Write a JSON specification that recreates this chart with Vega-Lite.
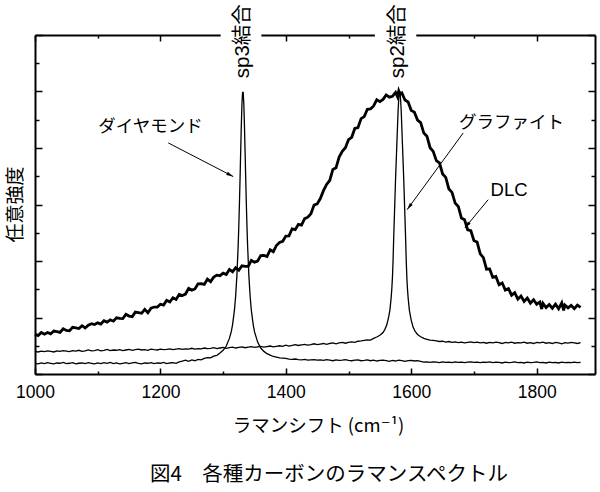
{
  "$schema": "https://vega.github.io/schema/vega-lite/v6.json",
  "autosize": "none",
  "width": 560,
  "height": 339,
  "padding": {"left": 35, "top": 35, "right": 5, "bottom": 118},
  "background": "white",
  "title": {"text": "図4　各種カーボンのラマンスペクトル", "orient": "bottom", "anchor": "middle", "font": "Noto Sans CJK JP", "fontSize": 20.5, "fontWeight": "normal", "color": "black", "offset": 30, "dx": 14},
  "config": {
    "view": {"stroke": null},
    "axis": {"grid": false, "domainColor": "black", "domainWidth": 2, "tickColor": "black", "tickWidth": 1.5, "labelColor": "black", "titleColor": "black", "zindex": 0}
  },
  "datasets": {
    "dlc": [
      {"w":1000,"v":1.41},{"w":1005,"v":1.36},{"w":1010,"v":1.47},{"w":1015,"v":1.41},{"w":1020,"v":1.47},{"w":1025,"v":1.42},{"w":1030,"v":1.52},{"w":1035,"v":1.50},{"w":1040,"v":1.47},{"w":1045,"v":1.60},
      {"w":1050,"v":1.54},{"w":1055,"v":1.53},{"w":1060,"v":1.65},{"w":1065,"v":1.63},{"w":1070,"v":1.61},{"w":1075,"v":1.71},{"w":1080,"v":1.63},{"w":1085,"v":1.73},{"w":1090,"v":1.78},{"w":1095,"v":1.75},
      {"w":1100,"v":1.81},{"w":1105,"v":1.77},{"w":1110,"v":1.89},{"w":1115,"v":1.84},{"w":1120,"v":1.92},{"w":1125,"v":1.87},{"w":1130,"v":1.99},{"w":1135,"v":1.97},{"w":1140,"v":1.96},{"w":1145,"v":2.11},
      {"w":1150,"v":2.05},{"w":1155,"v":2.03},{"w":1160,"v":2.19},{"w":1165,"v":2.17},{"w":1170,"v":2.15},{"w":1175,"v":2.29},{"w":1180,"v":2.17},{"w":1185,"v":2.33},{"w":1190,"v":2.37},{"w":1195,"v":2.37},
      {"w":1200,"v":2.47},{"w":1205,"v":2.44},{"w":1210,"v":2.61},{"w":1215,"v":2.55},{"w":1220,"v":2.70},{"w":1225,"v":2.64},{"w":1230,"v":2.82},{"w":1235,"v":2.78},{"w":1240,"v":2.83},{"w":1245,"v":3.03},
      {"w":1250,"v":2.97},{"w":1255,"v":3.01},{"w":1260,"v":3.19},{"w":1265,"v":3.20},{"w":1270,"v":3.17},{"w":1275,"v":3.36},{"w":1280,"v":3.27},{"w":1285,"v":3.43},{"w":1290,"v":3.50},{"w":1295,"v":3.48},
      {"w":1300,"v":3.57},{"w":1305,"v":3.52},{"w":1310,"v":3.70},{"w":1315,"v":3.62},{"w":1320,"v":3.76},{"w":1325,"v":3.67},{"w":1330,"v":3.83},{"w":1335,"v":3.81},{"w":1340,"v":3.81},{"w":1345,"v":4.02},
      {"w":1350,"v":3.96},{"w":1355,"v":4.00},{"w":1360,"v":4.19},{"w":1365,"v":4.20},{"w":1370,"v":4.16},{"w":1375,"v":4.40},{"w":1380,"v":4.33},{"w":1385,"v":4.55},{"w":1390,"v":4.66},{"w":1395,"v":4.70},
      {"w":1400,"v":4.88},{"w":1405,"v":4.89},{"w":1410,"v":5.14},{"w":1415,"v":5.11},{"w":1420,"v":5.30},{"w":1425,"v":5.27},{"w":1430,"v":5.50},{"w":1435,"v":5.55},{"w":1440,"v":5.67},{"w":1445,"v":5.98},
      {"w":1450,"v":6.02},{"w":1455,"v":6.21},{"w":1460,"v":6.49},{"w":1465,"v":6.71},{"w":1470,"v":6.85},{"w":1475,"v":7.24},{"w":1480,"v":7.30},{"w":1485,"v":7.68},{"w":1490,"v":7.88},{"w":1495,"v":8.01},
      {"w":1500,"v":8.30},{"w":1505,"v":8.38},{"w":1510,"v":8.69},{"w":1515,"v":8.72},{"w":1520,"v":9.04},{"w":1525,"v":9.11},{"w":1530,"v":9.37},{"w":1535,"v":9.38},{"w":1540,"v":9.49},{"w":1545,"v":9.71},
      {"w":1550,"v":9.64},{"w":1555,"v":9.72},{"w":1560,"v":9.88},{"w":1565,"v":9.80},{"w":1570,"v":9.83},{"w":1575,"v":9.97},{"w":1578,"v":9.82},{"w":1580,"v":10.02},{"w":1582,"v":9.90},{"w":1585,"v":9.95},
      {"w":1590,"v":9.70},{"w":1595,"v":9.63},{"w":1600,"v":9.33},{"w":1605,"v":9.27},{"w":1610,"v":8.99},{"w":1615,"v":8.90},{"w":1620,"v":8.53},{"w":1625,"v":8.42},{"w":1630,"v":8.01},{"w":1635,"v":7.88},
      {"w":1640,"v":7.55},{"w":1645,"v":7.47},{"w":1650,"v":7.08},{"w":1655,"v":6.96},{"w":1660,"v":6.55},{"w":1665,"v":6.43},{"w":1670,"v":6.05},{"w":1675,"v":5.93},{"w":1680,"v":5.52},{"w":1685,"v":5.46},
      {"w":1690,"v":5.10},{"w":1695,"v":5.07},{"w":1700,"v":4.72},{"w":1705,"v":4.67},{"w":1710,"v":4.25},{"w":1715,"v":4.12},{"w":1720,"v":3.71},{"w":1725,"v":3.72},{"w":1730,"v":3.42},{"w":1735,"v":3.45},
      {"w":1740,"v":3.16},{"w":1745,"v":3.22},{"w":1750,"v":2.97},{"w":1755,"v":3.02},{"w":1760,"v":2.79},{"w":1765,"v":2.88},{"w":1770,"v":2.65},{"w":1775,"v":2.76},{"w":1780,"v":2.57},{"w":1785,"v":2.69},
      {"w":1790,"v":2.51},{"w":1795,"v":2.63},{"w":1800,"v":2.47},{"w":1805,"v":2.55},{"w":1808,"v":2.30},{"w":1810,"v":2.50},{"w":1815,"v":2.35},{"w":1820,"v":2.46},{"w":1825,"v":2.33},{"w":1830,"v":2.47},
      {"w":1835,"v":2.31},{"w":1840,"v":2.52},{"w":1843,"v":2.25},{"w":1845,"v":2.44},{"w":1850,"v":2.34},{"w":1855,"v":2.43},{"w":1860,"v":2.31},{"w":1865,"v":2.44},{"w":1870,"v":2.36}
    ],
    "gra": [
      {"w":1000,"v":0.80},{"w":1005,"v":0.78},{"w":1010,"v":0.81},{"w":1015,"v":0.79},{"w":1020,"v":0.82},{"w":1025,"v":0.80},{"w":1030,"v":0.78},{"w":1035,"v":0.82},{"w":1040,"v":0.80},{"w":1045,"v":0.83},
      {"w":1050,"v":0.81},{"w":1055,"v":0.79},{"w":1060,"v":0.83},{"w":1065,"v":0.81},{"w":1070,"v":0.84},{"w":1075,"v":0.80},{"w":1080,"v":0.82},{"w":1085,"v":0.85},{"w":1090,"v":0.82},{"w":1095,"v":0.83},
      {"w":1100,"v":0.86},{"w":1105,"v":0.82},{"w":1110,"v":0.84},{"w":1115,"v":0.87},{"w":1120,"v":0.83},{"w":1125,"v":0.85},{"w":1130,"v":0.84},{"w":1135,"v":0.86},{"w":1140,"v":0.83},{"w":1145,"v":0.85},
      {"w":1150,"v":0.87},{"w":1155,"v":0.84},{"w":1160,"v":0.86},{"w":1165,"v":0.88},{"w":1170,"v":0.85},{"w":1175,"v":0.86},{"w":1180,"v":0.84},{"w":1185,"v":0.88},{"w":1190,"v":0.86},{"w":1195,"v":0.85},
      {"w":1200,"v":0.88},{"w":1205,"v":0.86},{"w":1210,"v":0.87},{"w":1215,"v":0.89},{"w":1220,"v":0.86},{"w":1225,"v":0.88},{"w":1230,"v":0.90},{"w":1235,"v":0.87},{"w":1240,"v":0.89},{"w":1245,"v":0.88},
      {"w":1250,"v":0.91},{"w":1255,"v":0.88},{"w":1260,"v":0.90},{"w":1265,"v":0.89},{"w":1270,"v":0.92},{"w":1275,"v":0.90},{"w":1280,"v":0.91},{"w":1285,"v":0.93},{"w":1290,"v":0.90},{"w":1295,"v":0.92},
      {"w":1300,"v":0.94},{"w":1305,"v":0.91},{"w":1310,"v":0.93},{"w":1315,"v":0.95},{"w":1320,"v":0.92},{"w":1325,"v":0.94},{"w":1330,"v":0.96},{"w":1335,"v":0.93},{"w":1340,"v":0.95},{"w":1345,"v":0.97},
      {"w":1350,"v":0.94},{"w":1355,"v":0.96},{"w":1360,"v":0.98},{"w":1365,"v":0.95},{"w":1370,"v":0.97},{"w":1375,"v":0.99},{"w":1380,"v":0.96},{"w":1385,"v":0.98},{"w":1390,"v":1.00},{"w":1395,"v":0.98},
      {"w":1400,"v":1.02},{"w":1405,"v":0.99},{"w":1410,"v":1.01},{"w":1415,"v":1.04},{"w":1420,"v":1.01},{"w":1425,"v":1.03},{"w":1430,"v":1.05},{"w":1435,"v":1.02},{"w":1440,"v":1.04},{"w":1445,"v":1.07},
      {"w":1450,"v":1.04},{"w":1455,"v":1.06},{"w":1460,"v":1.08},{"w":1465,"v":1.05},{"w":1470,"v":1.08},{"w":1475,"v":1.10},{"w":1480,"v":1.07},{"w":1485,"v":1.10},{"w":1490,"v":1.12},{"w":1495,"v":1.09},
      {"w":1500,"v":1.12},{"w":1505,"v":1.14},{"w":1510,"v":1.12},{"w":1515,"v":1.16},{"w":1520,"v":1.17},{"w":1525,"v":1.19},{"w":1530,"v":1.21},{"w":1535,"v":1.20},{"w":1540,"v":1.26},{"w":1545,"v":1.31},
      {"w":1550,"v":1.37},{"w":1555,"v":1.47},{"w":1558,"v":1.58},{"w":1561,"v":1.74},{"w":1564,"v":2.02},{"w":1566,"v":2.27},{"w":1568,"v":2.72},{"w":1569,"v":3.02},{"w":1570,"v":3.42},{"w":1571,"v":4.02},
      {"w":1572,"v":4.82},{"w":1573,"v":5.52},{"w":1574,"v":6.22},{"w":1575,"v":6.92},{"w":1576,"v":7.52},{"w":1577,"v":8.12},{"w":1578,"v":8.72},{"w":1579,"v":9.32},{"w":1580,"v":9.72},{"w":1581,"v":10.0},
      {"w":1582,"v":9.99},{"w":1583,"v":9.70},{"w":1584,"v":9.30},{"w":1585,"v":8.70},{"w":1586,"v":8.10},{"w":1587,"v":7.50},{"w":1588,"v":6.90},{"w":1589,"v":6.20},{"w":1590,"v":5.50},{"w":1591,"v":4.80},
      {"w":1592,"v":4.00},{"w":1593,"v":3.40},{"w":1594,"v":3.00},{"w":1595,"v":2.70},{"w":1597,"v":2.25},{"w":1600,"v":1.90},{"w":1603,"v":1.65},{"w":1606,"v":1.52},{"w":1610,"v":1.40},{"w":1615,"v":1.32},
      {"w":1620,"v":1.26},{"w":1625,"v":1.23},{"w":1630,"v":1.20},{"w":1635,"v":1.19},{"w":1640,"v":1.17},{"w":1645,"v":1.15},{"w":1650,"v":1.16},{"w":1655,"v":1.13},{"w":1660,"v":1.15},{"w":1665,"v":1.12},
      {"w":1670,"v":1.14},{"w":1675,"v":1.11},{"w":1680,"v":1.13},{"w":1685,"v":1.10},{"w":1690,"v":1.12},{"w":1695,"v":1.14},{"w":1700,"v":1.11},{"w":1705,"v":1.13},{"w":1710,"v":1.10},{"w":1715,"v":1.12},
      {"w":1720,"v":1.09},{"w":1725,"v":1.12},{"w":1730,"v":1.10},{"w":1735,"v":1.13},{"w":1740,"v":1.11},{"w":1745,"v":1.08},{"w":1750,"v":1.12},{"w":1755,"v":1.10},{"w":1760,"v":1.13},{"w":1765,"v":1.09},
      {"w":1770,"v":1.11},{"w":1775,"v":1.10},{"w":1780,"v":1.13},{"w":1785,"v":1.09},{"w":1790,"v":1.11},{"w":1795,"v":1.08},{"w":1800,"v":1.12},{"w":1805,"v":1.10},{"w":1810,"v":1.13},{"w":1815,"v":1.09},
      {"w":1820,"v":1.11},{"w":1825,"v":1.08},{"w":1830,"v":1.12},{"w":1835,"v":1.10},{"w":1840,"v":1.07},{"w":1845,"v":1.11},{"w":1850,"v":1.09},{"w":1855,"v":1.12},{"w":1860,"v":1.10},{"w":1865,"v":1.08},{"w":1870,"v":1.11}
    ],
    "dia": [
      {"w":1000,"v":0.38},{"w":1005,"v":0.36},{"w":1010,"v":0.39},{"w":1015,"v":0.37},{"w":1020,"v":0.40},{"w":1025,"v":0.38},{"w":1030,"v":0.36},{"w":1035,"v":0.39},{"w":1040,"v":0.38},{"w":1045,"v":0.41},
      {"w":1050,"v":0.37},{"w":1055,"v":0.38},{"w":1060,"v":0.40},{"w":1065,"v":0.36},{"w":1070,"v":0.38},{"w":1075,"v":0.39},{"w":1080,"v":0.37},{"w":1085,"v":0.40},{"w":1090,"v":0.38},{"w":1095,"v":0.36},
      {"w":1100,"v":0.39},{"w":1105,"v":0.37},{"w":1110,"v":0.40},{"w":1115,"v":0.38},{"w":1120,"v":0.41},{"w":1125,"v":0.37},{"w":1130,"v":0.39},{"w":1135,"v":0.36},{"w":1140,"v":0.38},{"w":1145,"v":0.40},
      {"w":1150,"v":0.37},{"w":1155,"v":0.39},{"w":1160,"v":0.41},{"w":1165,"v":0.38},{"w":1170,"v":0.36},{"w":1175,"v":0.39},{"w":1180,"v":0.38},{"w":1185,"v":0.40},{"w":1190,"v":0.37},{"w":1195,"v":0.39},
      {"w":1200,"v":0.38},{"w":1205,"v":0.41},{"w":1210,"v":0.37},{"w":1215,"v":0.39},{"w":1220,"v":0.40},{"w":1225,"v":0.38},{"w":1230,"v":0.43},{"w":1235,"v":0.46},{"w":1240,"v":0.49},{"w":1245,"v":0.45},
      {"w":1250,"v":0.50},{"w":1255,"v":0.47},{"w":1260,"v":0.52},{"w":1265,"v":0.50},{"w":1270,"v":0.55},{"w":1275,"v":0.58},{"w":1280,"v":0.57},{"w":1285,"v":0.63},{"w":1290,"v":0.66},{"w":1295,"v":0.74},
      {"w":1300,"v":0.84},{"w":1305,"v":0.99},{"w":1310,"v":1.26},{"w":1313,"v":1.50},{"w":1315,"v":1.74},{"w":1318,"v":2.25},{"w":1320,"v":2.77},{"w":1322,"v":3.50},{"w":1324,"v":4.56},{"w":1325,"v":5.24},
      {"w":1326,"v":6.03},{"w":1327,"v":6.93},{"w":1328,"v":7.88},{"w":1329,"v":8.79},{"w":1330,"v":9.55},{"w":1331,"v":9.97},{"w":1332,"v":9.97},{"w":1333,"v":9.55},{"w":1334,"v":8.79},{"w":1335,"v":7.88},
      {"w":1336,"v":6.93},{"w":1337,"v":6.03},{"w":1338,"v":5.24},{"w":1339,"v":4.56},{"w":1341,"v":3.50},{"w":1343,"v":2.77},{"w":1345,"v":2.25},{"w":1348,"v":1.74},{"w":1350,"v":1.50},{"w":1355,"v":1.13},
      {"w":1360,"v":0.92},{"w":1365,"v":0.80},{"w":1370,"v":0.72},{"w":1375,"v":0.67},{"w":1380,"v":0.62},{"w":1385,"v":0.60},{"w":1390,"v":0.57},{"w":1395,"v":0.56},{"w":1400,"v":0.55},{"w":1405,"v":0.53},
      {"w":1410,"v":0.52},{"w":1415,"v":0.53},{"w":1420,"v":0.51},{"w":1425,"v":0.50},{"w":1430,"v":0.52},{"w":1435,"v":0.49},{"w":1440,"v":0.50},{"w":1445,"v":0.51},{"w":1450,"v":0.49},{"w":1455,"v":0.50},
      {"w":1460,"v":0.48},{"w":1465,"v":0.51},{"w":1470,"v":0.49},{"w":1475,"v":0.47},{"w":1480,"v":0.50},{"w":1485,"v":0.48},{"w":1490,"v":0.49},{"w":1495,"v":0.51},{"w":1500,"v":0.48},{"w":1505,"v":0.47},
      {"w":1510,"v":0.49},{"w":1515,"v":0.50},{"w":1520,"v":0.47},{"w":1525,"v":0.48},{"w":1530,"v":0.50},{"w":1535,"v":0.47},{"w":1540,"v":0.49},{"w":1545,"v":0.46},{"w":1550,"v":0.48},{"w":1555,"v":0.49},
      {"w":1560,"v":0.47},{"w":1565,"v":0.45},{"w":1570,"v":0.48},{"w":1575,"v":0.46},{"w":1580,"v":0.49},{"w":1585,"v":0.47},{"w":1590,"v":0.45},{"w":1595,"v":0.47},{"w":1600,"v":0.48},{"w":1605,"v":0.46},
      {"w":1610,"v":0.47},{"w":1615,"v":0.45},{"w":1620,"v":0.42},{"w":1625,"v":0.43},{"w":1630,"v":0.41},{"w":1635,"v":0.43},{"w":1640,"v":0.42},{"w":1645,"v":0.40},{"w":1650,"v":0.43},{"w":1655,"v":0.41},
      {"w":1660,"v":0.42},{"w":1665,"v":0.40},{"w":1670,"v":0.43},{"w":1675,"v":0.41},{"w":1680,"v":0.42},{"w":1685,"v":0.40},{"w":1690,"v":0.42},{"w":1695,"v":0.43},{"w":1700,"v":0.41},{"w":1705,"v":0.42},
      {"w":1710,"v":0.40},{"w":1715,"v":0.42},{"w":1720,"v":0.41},{"w":1725,"v":0.43},{"w":1730,"v":0.40},{"w":1735,"v":0.42},{"w":1740,"v":0.41},{"w":1745,"v":0.39},{"w":1750,"v":0.42},{"w":1755,"v":0.40},
      {"w":1760,"v":0.41},{"w":1765,"v":0.43},{"w":1770,"v":0.40},{"w":1775,"v":0.41},{"w":1780,"v":0.39},{"w":1785,"v":0.42},{"w":1790,"v":0.40},{"w":1795,"v":0.41},{"w":1800,"v":0.43},{"w":1805,"v":0.40},
      {"w":1810,"v":0.41},{"w":1815,"v":0.39},{"w":1820,"v":0.42},{"w":1825,"v":0.40},{"w":1830,"v":0.41},{"w":1835,"v":0.39},{"w":1840,"v":0.42},{"w":1845,"v":0.40},{"w":1850,"v":0.41},{"w":1855,"v":0.40},
      {"w":1860,"v":0.42},{"w":1865,"v":0.40},{"w":1870,"v":0.41}
    ],
    "gaps": [{"x": 1296, "x2": 1361, "y": 11.3, "y2": 12.6}, {"x": 1542, "x2": 1608, "y": 11.3, "y2": 12.6}],
    "bonds": [{"x": 1332, "y": 11.78, "t": "sp3結合"}, {"x": 1579, "y": 11.78, "t": "sp2結合"}],
    "notes": [{"x": 1184, "y": 8.76, "t": "ダイヤモンド"}, {"x": 1760, "y": 8.88, "t": "グラファイト"}],
    "notes2": [{"x": 1756, "y": 6.52, "t": "DLC"}],
    "arrows": [
      {"k": "dia", "x": 1212.5, "y": 8.18, "x2": 1316.1, "y2": 6.99},
      {"k": "gra", "x": 1682.8, "y": 8.53, "x2": 1593.5, "y2": 5.82},
      {"k": "dlc", "x": 1722.6, "y": 6.17, "x2": 1685.5, "y2": 5.17}
    ]
  },
  "resolve": {"axis": {"x": "independent", "y": "independent"}},
  "layer": [
    {
      "data": {"name": "dlc"},
      "mark": {"type": "line", "color": "black", "strokeWidth": 2.8, "clip": false},
      "encoding": {
        "x": {"field": "w", "type": "quantitative", "scale": {"domain": [1000, 1893], "nice": false, "zero": false},
          "axis": {"orient": "bottom", "values": [1000, 1100, 1200, 1300, 1400, 1500, 1600, 1700, 1800], "format": "d",
            "labelExpr": "datum.value % 200 === 0 ? datum.label : ''", "labelFlush": false, "labelOverlap": false,
            "labelFont": "Liberation Sans", "labelFontSize": 17.5, "labelPadding": 15,
            "tickSize": {"condition": {"test": "datum.value % 200 === 0", "value": -6}, "value": -3},
            "title": "ラマンシフト (cm⁻¹)", "titleFont": "Noto Sans CJK JP, DejaVu Sans", "titleFontSize": 18.5, "titleFontWeight": "normal",
            "titleX": 283, "titleY": 51, "titleAlign": "center", "titleBaseline": "middle"}},
        "y": {"field": "v", "type": "quantitative", "scale": {"domain": [0, 12], "nice": false, "zero": false},
          "axis": {"orient": "left", "values": [0, 1, 2, 3, 4, 5, 6, 7, 8, 9, 10, 11, 12], "labels": false,
            "tickSize": {"condition": {"test": "datum.value % 2 === 0", "value": -7}, "value": -4},
            "title": "任意強度", "titleFont": "Noto Sans CJK JP", "titleFontSize": 19, "titleFontWeight": "normal",
            "titleAngle": 270, "titleX": -20, "titleY": 169, "titleAlign": "center", "titleBaseline": "middle"}}
      }
    },
    {
      "data": {"name": "gra"},
      "mark": {"type": "line", "color": "black", "strokeWidth": 1.3, "clip": false},
      "encoding": {
        "x": {"field": "w", "type": "quantitative",
          "axis": {"orient": "top", "values": [1000, 1100, 1200, 1300, 1400, 1500, 1600, 1700, 1800], "labels": false, "title": null,
            "tickSize": {"condition": {"test": "datum.value % 200 === 0", "value": -6}, "value": -3}}},
        "y": {"field": "v", "type": "quantitative",
          "axis": {"orient": "right", "values": [0, 1, 2, 3, 4, 5, 6, 7, 8, 9, 10, 11, 12], "labels": false, "title": null,
            "tickSize": {"condition": {"test": "datum.value % 2 === 0", "value": -7}, "value": -4}}}
      }
    },
    {
      "data": {"name": "dia"},
      "mark": {"type": "line", "color": "black", "strokeWidth": 1.3, "clip": false},
      "encoding": {
        "x": {"field": "w", "type": "quantitative", "axis": null},
        "y": {"field": "v", "type": "quantitative", "axis": null}
      }
    },
    {
      "data": {"name": "gaps"},
      "mark": {"type": "rect", "color": "white", "clip": false},
      "encoding": {
        "x": {"field": "x", "type": "quantitative", "axis": null}, "x2": {"field": "x2"},
        "y": {"field": "y", "type": "quantitative", "axis": null}, "y2": {"field": "y2"}
      }
    },
    {
      "data": {"name": "bonds"},
      "mark": {"type": "text", "angle": 270, "align": "center", "baseline": "middle", "font": "Liberation Sans, Noto Sans CJK JP", "fontSize": 20.5, "color": "black", "clip": false},
      "encoding": {
        "x": {"field": "x", "type": "quantitative", "axis": null},
        "y": {"field": "y", "type": "quantitative", "axis": null},
        "text": {"field": "t"}
      }
    },
    {
      "data": {"name": "notes"},
      "mark": {"type": "text", "align": "center", "baseline": "middle", "font": "Noto Sans CJK JP", "fontSize": 17.5, "color": "black"},
      "encoding": {
        "x": {"field": "x", "type": "quantitative", "axis": null},
        "y": {"field": "y", "type": "quantitative", "axis": null},
        "text": {"field": "t"}
      }
    },
    {
      "data": {"name": "notes2"},
      "mark": {"type": "text", "align": "center", "baseline": "middle", "font": "Liberation Sans", "fontSize": 18.5, "color": "black"},
      "encoding": {
        "x": {"field": "x", "type": "quantitative", "axis": null},
        "y": {"field": "y", "type": "quantitative", "axis": null},
        "text": {"field": "t"}
      }
    },
    {
      "data": {"name": "arrows"},
      "mark": {"type": "rule", "color": "black", "strokeWidth": 1},
      "encoding": {
        "x": {"field": "x", "type": "quantitative", "axis": null}, "x2": {"field": "x2"},
        "y": {"field": "y", "type": "quantitative", "axis": null}, "y2": {"field": "y2"}
      }
    },
    {
      "data": {"name": "arrows"},
      "transform": [{"filter": "datum.k === 'dia'"}],
      "mark": {"type": "point", "shape": "M0,0L-2,-0.5L-2,0.5Z", "filled": true, "color": "black", "size": 49, "angle": 27, "opacity": 1},
      "encoding": {
        "x": {"field": "x2", "type": "quantitative", "axis": null},
        "y": {"field": "y2", "type": "quantitative", "axis": null}
      }
    },
    {
      "data": {"name": "arrows"},
      "transform": [{"filter": "datum.k === 'gra'"}],
      "mark": {"type": "point", "shape": "M0,0L-2,-0.5L-2,0.5Z", "filled": true, "color": "black", "size": 49, "angle": 126, "opacity": 1},
      "encoding": {
        "x": {"field": "x2", "type": "quantitative", "axis": null},
        "y": {"field": "y2", "type": "quantitative", "axis": null}
      }
    },
    {
      "data": {"name": "arrows"},
      "transform": [{"filter": "datum.k === 'dlc'"}],
      "mark": {"type": "point", "shape": "M0,0L-2,-0.5L-2,0.5Z", "filled": true, "color": "black", "size": 49, "angle": 129.5, "opacity": 1},
      "encoding": {
        "x": {"field": "x2", "type": "quantitative", "axis": null},
        "y": {"field": "y2", "type": "quantitative", "axis": null}
      }
    }
  ]
}
